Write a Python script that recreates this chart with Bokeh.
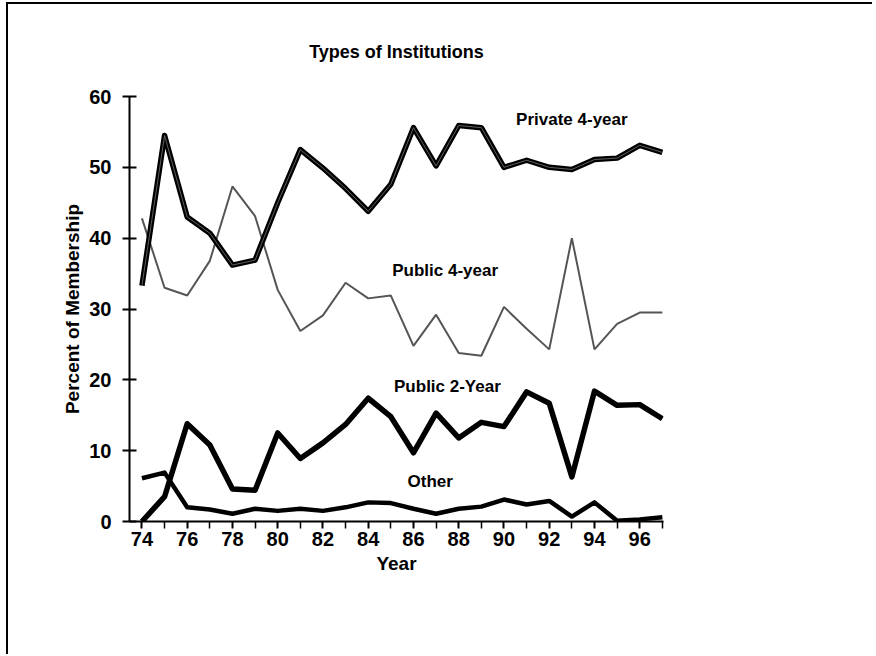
from bokeh.plotting import figure
from bokeh.models import Range1d, FixedTicker, Label
from bokeh.embed import file_html
from bokeh.resources import INLINE

years = list(range(74, 98))
private4 = [33.3, 54.5, 43.0, 40.7, 36.2, 36.9, 45.0, 52.5, 49.9, 47.0, 43.8, 47.6,
            55.6, 50.2, 55.9, 55.6, 50.0, 51.0, 50.0, 49.7, 51.1, 51.3, 53.1, 52.1]
public4 = [42.8, 33.0, 31.9, 36.8, 47.3, 43.1, 32.7, 26.9, 29.1, 33.7, 31.5, 31.9,
           24.8, 29.2, 23.8, 23.4, 30.3, 27.2, 24.3, 40.0, 24.3, 27.9, 29.5, 29.5]
public2 = [0.0, 3.5, 13.8, 10.8, 4.6, 4.4, 12.5, 8.9, 11.1, 13.7, 17.4, 14.8,
           9.7, 15.3, 11.8, 14.0, 13.4, 18.3, 16.7, 6.3, 18.4, 16.4, 16.5, 14.5]
other = [6.1, 6.9, 2.0, 1.7, 1.1, 1.8, 1.5, 1.8, 1.5, 2.0, 2.7, 2.6,
         1.8, 1.1, 1.8, 2.1, 3.1, 2.4, 2.9, 0.7, 2.7, 0.1, 0.3, 0.6]

labels = ["Private 4-year", "Public 4-year", "Public 2-Year", "Other"]
label_x = [93.0, 87.4, 87.5, 86.74]
label_y = [56.8, 35.4, 19.0, 5.6]

FONT = "Liberation Sans"

p = figure(width=866, height=652, output_backend="svg", toolbar_location=None,
           x_range=Range1d(73.45, 97.05), y_range=Range1d(0, 60),
           min_border_left=121, min_border_right=211,
           min_border_top=92, min_border_bottom=135,
           title="Types of Institutions")
p.styles = {"margin-left": "6px", "margin-top": "2px",
            "border-left": "2px solid black", "border-top": "2px solid black"}
p.outline_line_color = None
p.xgrid.visible = False
p.ygrid.visible = False

p.title.align = "center"
p.title.text_font = FONT
p.title.text_font_style = "bold"
p.title.text_font_size = "18px"
p.title.text_color = "black"
p.title.standoff = 70
p.title.offset = -8

# axes
p.xaxis.ticker = FixedTicker(ticks=[y for y in years if y % 2 == 0],
                             minor_ticks=[y for y in years if y % 2 == 1])
p.yaxis.ticker = FixedTicker(ticks=[0, 10, 20, 30, 40, 50, 60])
for ax in (p.xaxis[0], p.yaxis[0]):
    ax.axis_line_color = "black"
    ax.axis_line_width = 2
    ax.major_tick_line_color = "black"
    ax.major_tick_line_width = 2
    ax.minor_tick_line_color = "black"
    ax.minor_tick_line_width = 1.5
    ax.major_label_text_font = FONT
    ax.major_label_text_font_style = "bold"
    ax.major_label_text_font_size = "20px"
    ax.major_label_text_color = "black"
    ax.axis_label_text_font = FONT
    ax.axis_label_text_font_style = "bold"
    ax.axis_label_text_font_size = "19px"
    ax.axis_label_text_color = "black"

p.xaxis.axis_label = "Year"
p.xaxis.major_tick_in = 0
p.xaxis.major_tick_out = 7
p.xaxis.minor_tick_in = 0
p.xaxis.minor_tick_out = 7
p.xaxis.major_label_standoff = 3
p.xaxis.axis_label_standoff = 4

p.yaxis.axis_label = "Percent of Membership"
p.yaxis.major_tick_in = 7
p.yaxis.major_tick_out = 7
p.yaxis.minor_tick_in = 0
p.yaxis.minor_tick_out = 0
p.yaxis.major_label_standoff = 11
p.yaxis.axis_label_standoff = 3

# series
p.line(years, public4, line_color="#555555", line_width=2)
p.line(years, private4, line_color="black", line_width=5.5, line_join="round")
p.line(years, private4, line_color="#777777", line_width=0.8, line_join="round")
p.line(years, public2, line_color="black", line_width=5.5, line_join="round")
p.line(years, other, line_color="black", line_width=4.5, line_join="round")

for t, lx, ly in zip(labels, label_x, label_y):
    p.add_layout(Label(x=lx, y=ly, text=t, text_align="center", text_baseline="middle",
                       text_font=FONT, text_font_style="bold", text_font_size="17px",
                       text_color="black"))

open("out.html", "w").write(file_html(p, INLINE))
